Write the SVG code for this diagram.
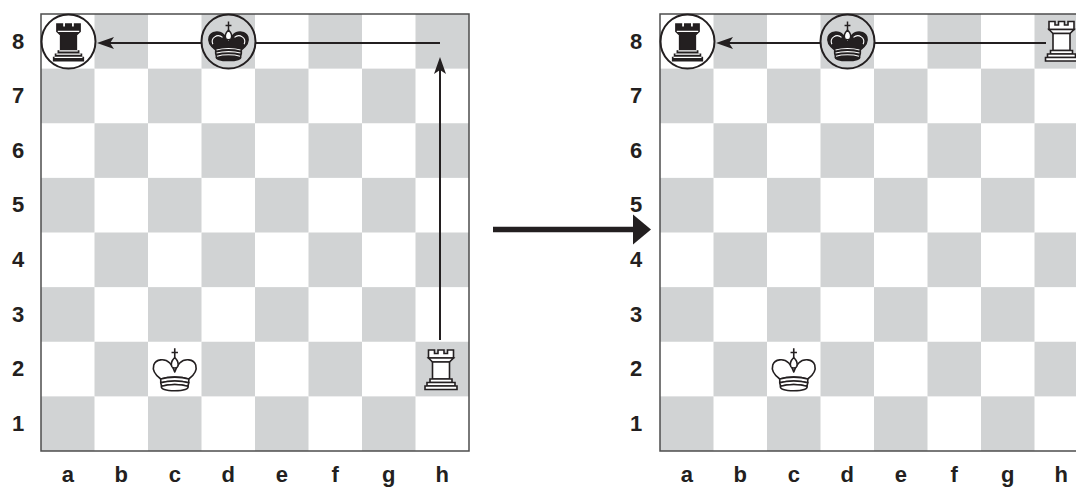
<svg xmlns="http://www.w3.org/2000/svg" xmlns:xlink="http://www.w3.org/1999/xlink" width="1076" height="487" viewBox="0 0 1076 487">
<style>
.lbl{font-family:"Liberation Sans",Arial,sans-serif;font-weight:bold;font-size:22px;fill:#231f20;text-anchor:middle}
.dk{fill:#d1d3d4}
.border{fill:none;stroke:#4d4d4d;stroke-width:1.5}
.conn{fill:none;stroke:#231f20;stroke-width:2}
.ring{stroke:#231f20;stroke-width:2}
</style>
<defs>
<marker id="ah" markerUnits="userSpaceOnUse" markerWidth="20" markerHeight="14" refX="14" refY="7" orient="auto">
<path d="M0,1L17,7L0,13L4,7Z" fill="#231f20"/>
</marker>
<g id="pair">
<rect class="dk" x="53.5" y="0" width="53.5" height="54.625"/>
<rect class="dk" x="160.5" y="0" width="53.5" height="54.625"/>
<rect class="dk" x="267.5" y="0" width="53.5" height="54.625"/>
<rect class="dk" x="374.5" y="0" width="53.5" height="54.625"/>
<rect class="dk" x="0" y="54.625" width="53.5" height="54.625"/>
<rect class="dk" x="107" y="54.625" width="53.5" height="54.625"/>
<rect class="dk" x="214" y="54.625" width="53.5" height="54.625"/>
<rect class="dk" x="321" y="54.625" width="53.5" height="54.625"/>
</g>
<g id="squares">
<use xlink:href="#pair"/>
<use xlink:href="#pair" y="109.25"/>
<use xlink:href="#pair" y="218.5"/>
<use xlink:href="#pair" y="327.75"/>
</g>
<g id="wk" fill="#fff" stroke="#231f20" stroke-width="1.6" stroke-linejoin="round">
<path d="M0,-21.7V-12.5M-3.2,-17.5H3.2" fill="none"/>
<path d="M-14,9C-19.5,5 -22.5,0 -21,-5C-19,-11 -10,-12 -5,-7C-2.5,-4.5 -0.8,-1 0,2C0.8,-1 2.5,-4.5 5,-7C10,-12 19,-11 21,-5C22.5,0 19.5,5 14,9C6,6.5 -6,6.5 -14,9Z"/>
<path d="M0,-12.5C-2.5,-10 -4.2,-6.5 -3,-3.5C-2,-1.5 2,-1.5 3,-3.5C4.2,-6.5 2.5,-10 0,-12.5Z"/>
<path d="M-14,9C-6,6.5 6,6.5 14,9L14,12.8C6,10.3 -6,10.3 -14,12.8Z"/>
<path d="M-14,12.8C-6,10.3 6,10.3 14,12.8L13.2,16.2C6,14 -6,14 -13.2,16.2Z"/>
<path d="M-13.2,16.2C-6,14 6,14 13.2,16.2C14.5,19 9,20.8 0,20.8C-9,20.8 -14.5,19 -13.2,16.2Z"/>
</g>
<g id="bk" stroke-linejoin="round">
<path d="M0,-21.7V-12.5M-3.2,-17.5H3.2" fill="none" stroke="#231f20" stroke-width="1.6"/>
<path d="M-14,9C-19.5,5 -22.5,0 -21,-5C-19,-11 -10,-12 -5,-7C-2.5,-4.5 -0.8,-1 0,2C0.8,-1 2.5,-4.5 5,-7C10,-12 19,-11 21,-5C22.5,0 19.5,5 14,9L14,12.8L13.2,16.2C14.5,19 9,20.8 0,20.8C-9,20.8 -14.5,19 -13.2,16.2L-14,12.8Z" fill="#231f20" stroke="#231f20" stroke-width="1.6"/>
<path d="M0,-12.5C-2.5,-10 -4.2,-6.5 -3,-3.5C-2,-1.5 2,-1.5 3,-3.5C4.2,-6.5 2.5,-10 0,-12.5Z" fill="#fff" stroke="#231f20" stroke-width="1.6"/>
<path d="M-17,3C-20,-4 -12,-9 -6.5,-4.5M17,3C20,-4 12,-9 6.5,-4.5M-13,9.2C-6,7 6,7 13,9.2M-13,12.6C-6,10.4 6,10.4 13,12.6M-12.5,16C-6,13.9 6,13.9 12.5,16" fill="none" stroke="#fff" stroke-width="1.2"/>
</g>
<g id="wr" fill="#fff" stroke="#231f20" stroke-width="1.6" stroke-linejoin="miter">
<path d="M-12.5,-20H-6.5V-16.5H-3V-20H3V-16.5H6.5V-20H12.5V-12H-12.5Z"/>
<path d="M-12.5,-12L-8.5,-8H8.5L12.5,-12Z"/>
<path d="M-8.5,-8H8.5V9H-8.5Z"/>
<path d="M-11,9H11V12.5H-11Z"/>
<path d="M-14,12.5H14V16H-14Z"/>
<path d="M-16,16H16V19.5H-16Z"/>
</g>
<g id="br" stroke-linejoin="miter">
<path d="M-12.5,-20H-6.5V-16.5H-3V-20H3V-16.5H6.5V-20H12.5V-12L8.5,-8V9H11V12.5H14V16H16V19.5H-16V16H-14V12.5H-11V9H-8.5V-8L-12.5,-12Z" fill="#231f20" stroke="#231f20" stroke-width="1.6"/>
<path d="M-11.5,-12H11.5M-10,9H10M-13,12.5H13M-15,16H15" fill="none" stroke="#fff" stroke-width="1.2"/>
</g>
</defs>
<rect width="1076" height="487" fill="#fff"/>

<g id="board-left">
<use xlink:href="#squares" x="41" y="14"/>
<rect class="border" x="41" y="14" width="428" height="437"/>
<g id="ranks-left">
<text class="lbl" x="18" y="48.5">8</text>
<text class="lbl" x="18" y="103.2">7</text>
<text class="lbl" x="18" y="157.8">6</text>
<text class="lbl" x="18" y="212.4">5</text>
<text class="lbl" x="18" y="267">4</text>
<text class="lbl" x="18" y="321.7">3</text>
<text class="lbl" x="18" y="376.3">2</text>
<text class="lbl" x="18" y="431">1</text>
</g>
<g id="files-left">
<text class="lbl" x="67.75" y="481.5">a</text>
<text class="lbl" x="121.25" y="481.5">b</text>
<text class="lbl" x="174.75" y="481.5">c</text>
<text class="lbl" x="228.25" y="481.5">d</text>
<text class="lbl" x="281.75" y="481.5">e</text>
<text class="lbl" x="335.25" y="481.5">f</text>
<text class="lbl" x="388.75" y="481.5">g</text>
<text class="lbl" x="442.25" y="481.5">h</text>
</g>
</g>

<g id="board-right">
<use xlink:href="#squares" x="660" y="14"/>
<rect class="border" x="660" y="14" width="428" height="437"/>
<g id="ranks-right">
<text class="lbl" x="636" y="48.5">8</text>
<text class="lbl" x="636" y="103.2">7</text>
<text class="lbl" x="636" y="157.8">6</text>
<text class="lbl" x="636" y="212.4">5</text>
<text class="lbl" x="636" y="267">4</text>
<text class="lbl" x="636" y="321.7">3</text>
<text class="lbl" x="636" y="376.3">2</text>
<text class="lbl" x="636" y="431">1</text>
</g>
<g id="files-right">
<text class="lbl" x="686.75" y="481.5">a</text>
<text class="lbl" x="740.25" y="481.5">b</text>
<text class="lbl" x="793.75" y="481.5">c</text>
<text class="lbl" x="847.25" y="481.5">d</text>
<text class="lbl" x="900.75" y="481.5">e</text>
<text class="lbl" x="954.25" y="481.5">f</text>
<text class="lbl" x="1007.75" y="481.5">g</text>
<text class="lbl" x="1061.25" y="481.5">h</text>
</g>
</g>

<g id="connectors">
<path class="conn" d="M440,340V60" marker-end="url(#ah)"/>
<path class="conn" d="M440,43H100" marker-end="url(#ah)"/>
<path class="conn" d="M1046,43H719" marker-end="url(#ah)"/>
<path d="M493,229.5H636" fill="none" stroke="#231f20" stroke-width="5.5"/>
<path d="M633,214.5L651,229.5L633,244.5Z" fill="#231f20"/>
</g>

<g id="left-a8-black-rook">
<circle class="ring" cx="68.5" cy="41.5" r="27" fill="#fff"/>
<use xlink:href="#br" transform="translate(68.5,42.5) scale(0.93)"/>
</g>
<g id="left-d8-black-king">
<circle class="ring" cx="228.5" cy="41.5" r="27" fill="#d1d3d4"/>
<use xlink:href="#bk" transform="translate(228.5,41.5) scale(0.92)"/>
</g>
<g id="left-c2-white-king">
<use xlink:href="#wk" transform="translate(174.75,370)"/>
</g>
<g id="left-h2-white-rook">
<use xlink:href="#wr" transform="translate(441,370)"/>
</g>

<g id="right-a8-black-rook">
<circle class="ring" cx="687.5" cy="41.5" r="27" fill="#fff"/>
<use xlink:href="#br" transform="translate(687.5,42.5) scale(0.93)"/>
</g>
<g id="right-d8-black-king">
<circle class="ring" cx="847.5" cy="41.5" r="27" fill="#d1d3d4"/>
<use xlink:href="#bk" transform="translate(847.5,41.5) scale(0.92)"/>
</g>
<g id="right-c2-white-king">
<use xlink:href="#wk" transform="translate(793.75,370)"/>
</g>
<g id="right-h8-white-rook">
<use xlink:href="#wr" transform="translate(1061.5,41.5)"/>
</g>
</svg>
